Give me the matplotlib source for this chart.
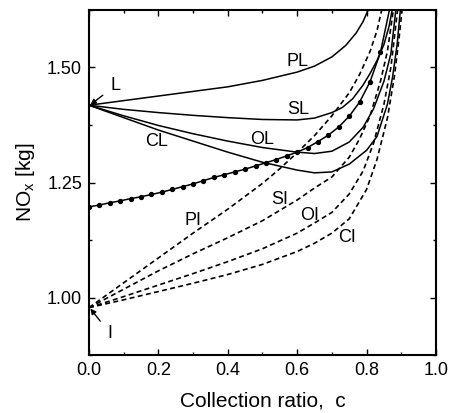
import matplotlib
matplotlib.use("Agg")
import matplotlib.pyplot as plt
from matplotlib.ticker import MultipleLocator, FormatStrFormatter

plt.rcParams['font.family'] = ['Liberation Sans', 'DejaVu Sans']
plt.rcParams['mathtext.fontset'] = 'custom'
plt.rcParams['mathtext.rm'] = 'Liberation Sans'

# ---- data ----
c_PL = [0, 0.1, 0.2, 0.3, 0.4, 0.5, 0.6, 0.65, 0.7, 0.74, 0.77, 0.79, 0.81]
y_PL = [1.418, 1.428, 1.438, 1.448, 1.458, 1.472, 1.490, 1.503, 1.523, 1.548, 1.575, 1.600, 1.635]

c_SL = [0, 0.1, 0.2, 0.3, 0.4, 0.5, 0.6, 0.65, 0.7, 0.73, 0.76, 0.79, 0.81, 0.83, 0.85, 0.865, 0.875]
y_SL = [1.418, 1.409, 1.402, 1.396, 1.391, 1.387, 1.386, 1.390, 1.402, 1.413, 1.432, 1.462, 1.487, 1.515, 1.550, 1.590, 1.630]

c_OL = [0, 0.1, 0.2, 0.3, 0.4, 0.5, 0.6, 0.65, 0.7, 0.75, 0.79, 0.82, 0.85, 0.87, 0.885]
y_OL = [1.418, 1.395, 1.374, 1.356, 1.340, 1.326, 1.316, 1.313, 1.318, 1.338, 1.370, 1.410, 1.470, 1.530, 1.630]

c_CL = [0, 0.1, 0.2, 0.3, 0.4, 0.5, 0.6, 0.65, 0.7, 0.75, 0.8, 0.83, 0.86, 0.875, 0.888, 0.898]
y_CL = [1.418, 1.391, 1.364, 1.340, 1.316, 1.294, 1.277, 1.271, 1.273, 1.290, 1.320, 1.350, 1.420, 1.480, 1.550, 1.630]

c_PI = [0, 0.1, 0.2, 0.3, 0.4, 0.5, 0.55, 0.6, 0.65, 0.7, 0.75, 0.78, 0.81, 0.83, 0.845]
y_PI = [0.978, 1.032, 1.086, 1.140, 1.192, 1.248, 1.280, 1.315, 1.352, 1.395, 1.445, 1.485, 1.535, 1.580, 1.630]

c_SI = [0, 0.1, 0.2, 0.3, 0.4, 0.5, 0.6, 0.65, 0.7, 0.75, 0.78, 0.81, 0.84, 0.86, 0.878]
y_SI = [0.978, 1.018, 1.058, 1.095, 1.130, 1.167, 1.212, 1.238, 1.262, 1.305, 1.345, 1.395, 1.470, 1.535, 1.630]

c_OI = [0, 0.1, 0.2, 0.3, 0.4, 0.5, 0.6, 0.65, 0.7, 0.75, 0.79, 0.82, 0.85, 0.87, 0.89]
y_OI = [0.978, 1.002, 1.027, 1.052, 1.078, 1.106, 1.140, 1.162, 1.185, 1.225, 1.275, 1.335, 1.420, 1.500, 1.630]

c_CI = [0, 0.1, 0.2, 0.3, 0.4, 0.5, 0.6, 0.65, 0.7, 0.75, 0.8, 0.83, 0.86, 0.88, 0.893, 0.903]
y_CI = [0.978, 0.995, 1.013, 1.031, 1.050, 1.072, 1.100, 1.118, 1.140, 1.171, 1.235, 1.300, 1.390, 1.480, 1.560, 1.630]

c_M = [0.00, 0.03, 0.06, 0.09, 0.12, 0.15, 0.18, 0.21, 0.24, 0.27, 0.30, 0.33, 0.36, 0.39, 0.42,
       0.45, 0.48, 0.51, 0.54, 0.57, 0.60, 0.63, 0.66, 0.69, 0.72, 0.75, 0.78, 0.81, 0.84, 0.87]
y_M = [1.197, 1.201, 1.206, 1.210, 1.215, 1.219, 1.224, 1.229, 1.235, 1.241, 1.247, 1.254, 1.261, 1.267, 1.273,
       1.279, 1.286, 1.293, 1.300, 1.308, 1.316, 1.326, 1.339, 1.353, 1.371, 1.394, 1.425, 1.469, 1.533, 1.640]

x_ticks = [0.0, 0.2, 0.4, 0.6, 0.8, 1.0]
y_ticks = [1.00, 1.25, 1.50]

fig = plt.figure(figsize=(4.51, 4.13), dpi=100)
ax = fig.add_axes([0.1973, 0.1404, 0.7694, 0.8354])

lw = 1.1
for cx, cy in [(c_PL, y_PL), (c_SL, y_SL), (c_OL, y_OL), (c_CL, y_CL)]:
    ax.plot(cx, cy, color='black', lw=lw, solid_capstyle='butt')
for cx, cy in [(c_PI, y_PI), (c_SI, y_SI), (c_OI, y_OI), (c_CI, y_CI)]:
    ax.plot(cx, cy, color='black', lw=1.2, linestyle=(0, (3, 2)))
ax.plot(c_M, y_M, color='black', lw=lw, marker='o', markersize=2.8)

ax.set_xlim(0, 1.0)
ax.set_ylim(0.875, 1.625)
ax.set_xticks(x_ticks)
ax.set_yticks(y_ticks)
ax.xaxis.set_minor_locator(MultipleLocator(0.1))
ax.yaxis.set_minor_locator(MultipleLocator(0.125))
ax.xaxis.set_major_formatter(FormatStrFormatter('%.1f'))
ax.yaxis.set_major_formatter(FormatStrFormatter('%.2f'))
ax.tick_params(which='both', direction='in', top=True, right=True, labelsize=13, width=1.0)
ax.tick_params(which='major', length=4.5, pad=5)
ax.tick_params(which='minor', length=2.5)
for s in ax.spines.values():
    s.set_linewidth(1.5)

ax.set_xlabel('Collection ratio,  c', fontsize=15, labelpad=9)
ax.set_ylabel(r'NO$_\mathregular{x}$ [kg]', fontsize=15, labelpad=7)

fs = 13
ax.text(0.602, 1.513, 'PL', fontsize=fs, ha='center', va='center')
ax.text(0.602, 1.409, 'SL', fontsize=fs, ha='center', va='center')
ax.text(0.500, 1.344, 'OL', fontsize=fs, ha='center', va='center')
ax.text(0.195, 1.340, 'CL', fontsize=fs, ha='center', va='center')
ax.text(0.300, 1.167, 'PI', fontsize=fs, ha='center', va='center')
ax.text(0.550, 1.214, 'SI', fontsize=fs, ha='center', va='center')
ax.text(0.637, 1.178, 'OI', fontsize=fs, ha='center', va='center')
ax.text(0.743, 1.131, 'CI', fontsize=fs, ha='center', va='center')

ax.annotate('L', xy=(0.004, 1.419), xytext=(0.075, 1.460), fontsize=fs, ha='center', va='center',
            arrowprops=dict(arrowstyle='-|>', color='black', lw=1.0, mutation_scale=8, shrinkA=4, shrinkB=0))
ax.annotate('I', xy=(0.004, 0.976), xytext=(0.060, 0.922), fontsize=fs, ha='center', va='center',
            arrowprops=dict(arrowstyle='-|>', color='black', lw=1.0, mutation_scale=8, shrinkA=5, shrinkB=0))

fig.savefig('out.png', dpi=100)
